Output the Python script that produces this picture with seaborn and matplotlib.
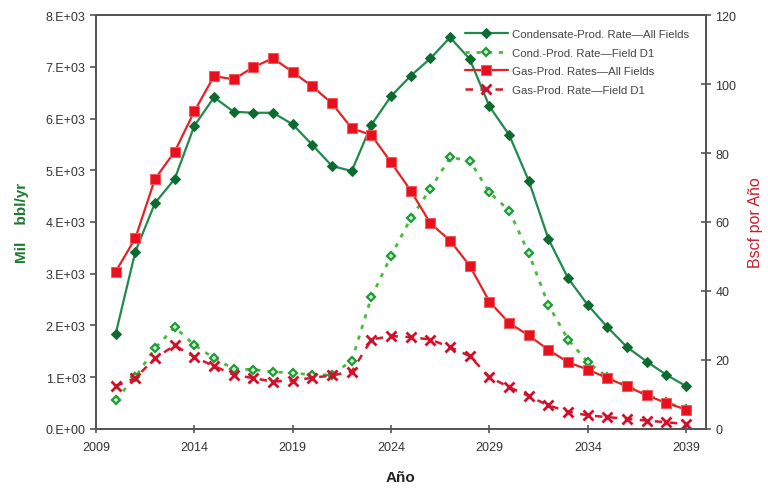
import numpy as np
import pandas as pd
import matplotlib
matplotlib.use("Agg")
import matplotlib.pyplot as plt
import seaborn as sns
from matplotlib.ticker import FuncFormatter, MultipleLocator

years = list(range(2010, 2040))

cond_all = [1836, 3426, 4367, 4831, 5861, 6410, 6131, 6112, 6112, 5888,
            5488, 5082, 4986, 5880, 6432, 6827, 7163, 7569, 7150, 6236,
            5687, 4798, 3671, 2912, 2396, 1965, 1579, 1300, 1043, 825]
cond_d1 = [566, 1000, 1559, 1965, 1623, 1366, 1159, 1146, 1101, 1082,
           1043, 1043, 1320, 2545, 3346, 4072, 4638, 5250, 5185, 4574,
           4219, 3395, 2396, 1726, 1289, 1000, 830, 660, 510, 385]
gas_all = [45.6, 55.3, 72.5, 80.4, 92.1, 102.3, 101.4, 104.9, 107.5, 103.5,
           99.3, 94.4, 87.2, 85.2, 77.3, 69.1, 59.6, 54.6, 47.3, 36.9,
           30.7, 27.1, 22.9, 19.3, 17.2, 14.7, 12.3, 9.7, 7.5, 5.6]
gas_d1 = [12.4, 14.7, 20.5, 24.2, 20.8, 18.2, 15.7, 14.7, 13.7, 14.0,
          14.8, 15.5, 16.6, 25.9, 26.9, 26.6, 25.9, 23.7, 21.1, 15.0,
          12.1, 9.5, 6.8, 5.0, 3.9, 3.4, 2.9, 2.4, 1.9, 1.4]

labels = ["Condensate-Prod. Rate\u2014All Fields",
          "Cond.-Prod. Rate\u2014Field D1",
          "Gas-Prod. Rates\u2014All Fields",
          "Gas-Prod. Rate\u2014Field D1"]
x_ticks = [2009, 2014, 2019, 2024, 2029, 2034, 2039]

df = pd.DataFrame({"year": years, "cond_all": cond_all, "cond_d1": cond_d1,
                   "gas_all": gas_all, "gas_d1": gas_d1})

sns.set_style("white")
plt.rcParams["font.family"] = ["Liberation Sans", "DejaVu Sans"]

fig = plt.figure(figsize=(7.68, 4.89), dpi=100)
ax = fig.add_axes([0.125, 0.121, 0.794, 0.846])
ax2 = ax.twinx()

sns.lineplot(data=df, x="year", y="cond_all", ax=ax, color="#1f8a4c", lw=1.6,
             marker="D", markersize=5, markerfacecolor="#0e6b30",
             markeredgecolor="#0e6b30", label=labels[0], legend=False)
sns.lineplot(data=df, x="year", y="cond_d1", ax=ax, color="#4cb83c", lw=2.0,
             linestyle=(0, (1.5, 2.5)), marker="D", markersize=4.5,
             markerfacecolor="#c8ecc0", markeredgecolor="#1e9a3a", markeredgewidth=1.6,
             label=labels[1], legend=False)
sns.lineplot(data=df, x="year", y="gas_all", ax=ax2, color="#e32228", lw=1.6,
             marker="s", markersize=7, markerfacecolor="#e8101c",
             markeredgecolor="#f05a5a", label=labels[2], legend=False)
sns.lineplot(data=df, x="year", y="gas_d1", ax=ax2, color="#d31a2a", lw=1.8,
             linestyle=(0, (3, 3)), marker="x", markersize=6.5, markeredgewidth=2,
             markeredgecolor="#d0102a", label=labels[3], legend=False)

ax.set_xlim(2009, 2040)
ax.set_ylim(0, 8000)
ax2.set_ylim(0, 120)
ax.set_xticks(x_ticks)
ax.yaxis.set_major_locator(MultipleLocator(1000))
ax2.yaxis.set_major_locator(MultipleLocator(20))

def sci(v, pos):
    if v == 0:
        return "0.E+00"
    e = int(np.floor(np.log10(abs(v))))
    return f"{v/10**e:.0f}.E+{e:02d}"

ax.yaxis.set_major_formatter(FuncFormatter(sci))

for a in (ax, ax2):
    for s in a.spines.values():
        s.set_color("#555555")
        s.set_linewidth(1.4)
ax.tick_params(axis="y", direction="out", length=4, width=1.2, color="#555555",
               labelsize=9, labelcolor="#333333", left=True)
ax.tick_params(axis="x", direction="inout", length=6, width=1.2, color="#555555",
               labelsize=9, labelcolor="#333333", bottom=True, pad=6)
ax2.tick_params(axis="y", direction="inout", length=7, width=1.2, color="#555555",
                labelsize=9, labelcolor="#333333", right=True)

ax.set_xlabel("Año", fontsize=11, fontweight="bold", color="#222222", labelpad=12)
ax.set_ylabel("Mil    bbl/yr", fontsize=11, fontweight="bold", color="#1a7a2c", labelpad=12)
ax2.set_ylabel("Bscf por Año", fontsize=11.5, color="#c81e2a", labelpad=8)

h1, l1 = ax.get_legend_handles_labels()
h2, l2 = ax2.get_legend_handles_labels()
leg = ax2.legend(h1 + h2, l1 + l2, loc="upper right", bbox_to_anchor=(0.985, 0.985),
                 frameon=False, fontsize=8.2, handlelength=3.8, handletextpad=0.3,
                 labelspacing=0.75, borderaxespad=0.3)
for t in leg.get_texts():
    t.set_color("#444444")

fig.savefig("out.png", dpi=100)
